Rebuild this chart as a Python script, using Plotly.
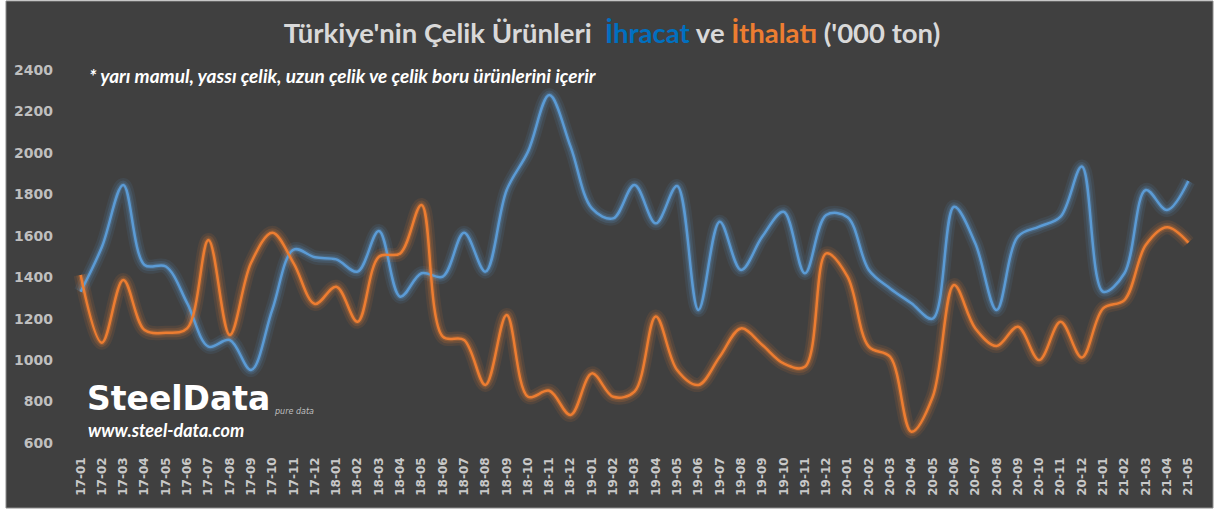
import plotly.graph_objects as go

months = ["17-01","17-02","17-03","17-04","17-05","17-06","17-07","17-08","17-09","17-10","17-11","17-12",
          "18-01","18-02","18-03","18-04","18-05","18-06","18-07","18-08","18-09","18-10","18-11","18-12",
          "19-01","19-02","19-03","19-04","19-05","19-06","19-07","19-08","19-09","19-10","19-11","19-12",
          "20-01","20-02","20-03","20-04","20-05","20-06","20-07","20-08","20-09","20-10","20-11","20-12",
          "21-01","21-02","21-03","21-04","21-05"]

ihracat = [1330, 1547, 1845, 1459, 1452, 1275, 1065, 1097, 952, 1245, 1533, 1496,
           1486, 1427, 1623, 1306, 1419, 1403, 1615, 1427, 1821, 2006, 2279, 2030,
           1732, 1684, 1845, 1660, 1840, 1242, 1668, 1435, 1596, 1716, 1419, 1700,
           1690, 1435, 1346, 1274, 1200, 1740, 1563, 1242, 1596, 1644, 1692, 1934,
           1330, 1419, 1821, 1724, 1864]

ithalat = [1411, 1084, 1387, 1145, 1132, 1153, 1580, 1121, 1470, 1615, 1467, 1271,
           1354, 1185, 1499, 1515, 1749, 1113, 1097, 880, 1218, 823, 852, 735,
           936, 823, 848, 1210, 952, 880, 1016, 1153, 1073, 984, 968, 1515,
           1403, 1065, 1016, 654, 823, 1362, 1153, 1068, 1161, 1000, 1185, 1013,
           1250, 1290, 1555, 1641, 1567]

y_ticks = [600, 800, 1000, 1200, 1400, 1600, 1800, 2000, 2200, 2400]

BLUE = "#5b9bd5"
ORANGE = "#ed7d31"
BG = "#404040"

W, H = 1217, 511
ML, MR, MT, MB = 70, 18, 70, 68
PW, PH = W - ML - MR, H - MT - MB

def px_x(p):
    return (p - ML) / PW

def px_y(p):
    return (H - MB - p) / PH

fig = go.Figure()

# glow layers
for series, col in ((ihracat, BLUE), (ithalat, ORANGE)):
    for w, op in ((14, 0.10), (9, 0.16), (5, 0.25)):
        fig.add_trace(go.Scatter(x=months, y=series, mode="lines",
                                 line=dict(color=col, width=w, shape="spline", smoothing=1.0),
                                 opacity=op, hoverinfo="skip", showlegend=False))

fig.add_trace(go.Scatter(x=months, y=ihracat, mode="lines", name="İhracat",
                         line=dict(color=BLUE, width=2.5, shape="spline", smoothing=1.0),
                         showlegend=False))
fig.add_trace(go.Scatter(x=months, y=ithalat, mode="lines", name="İthalat",
                         line=dict(color=ORANGE, width=2.5, shape="spline", smoothing=1.0),
                         showlegend=False))

title_txt = ("<b>Türkiye'nin Çelik Ürünleri&nbsp;&nbsp;<span style='color:#0070c0'>İhracat</span> ve "
             "<span style='color:#ed7d31'>İthalatı</span> ('000 ton)</b>")

fig.update_layout(
    width=W, height=H,
    margin=dict(l=ML, r=MR, t=MT, b=MB, pad=0),
    paper_bgcolor="#ffffff",
    plot_bgcolor="rgba(0,0,0,0)",
    title=dict(text=title_txt, x=px_x(612), xanchor="center", xref="paper",
               y=1 - 33 / H, yanchor="middle", yref="container",
               font=dict(family="Lato", size=27.5, color="#d9d9d9")),
    xaxis=dict(type="category", range=[-0.5, len(months) - 0.5],
               showgrid=False, zeroline=False, showline=False,
               tickangle=-90, ticks="", ticklabelstandoff=11,
               tickfont=dict(family="DejaVu Sans", size=12, color="#c8c8c8", weight="bold")),
    yaxis=dict(range=[600, 2400], tickvals=y_ticks,
               showgrid=False, zeroline=False, showline=False, ticks="",
               ticklabelstandoff=16,
               tickfont=dict(family="DejaVu Sans", size=14, color="#bfbfbf", weight="bold")),
    shapes=[
        dict(type="rect", xref="paper", yref="paper", layer="below",
             x0=px_x(6), x1=px_x(1213), y0=px_y(508), y1=px_y(1),
             fillcolor=BG, line=dict(color="#8c8c8c", width=1)),
    ],
    annotations=[
        dict(text="<b><i>* yarı mamul, yassı çelik, uzun çelik ve çelik boru ürünlerini içerir</i></b>",
             xref="paper", yref="paper", x=px_x(87), y=px_y(75), xanchor="left", yanchor="middle",
             showarrow=False, font=dict(family="Lato", size=19, color="#ffffff")),
        dict(text="<b>SteelData</b>",
             xref="paper", yref="paper", x=px_x(85), y=px_y(398), xanchor="left", yanchor="middle",
             showarrow=False, font=dict(family="DejaVu Sans", size=33, color="#ffffff")),
        dict(text="<i>pure data</i>",
             xref="paper", yref="paper", x=px_x(272), y=px_y(411), xanchor="left", yanchor="middle",
             showarrow=False, font=dict(family="DejaVu Sans", size=8, color="#bfbfbf")),
        dict(text="<b><i>www.steel-data.com</i></b>",
             xref="paper", yref="paper", x=px_x(86), y=px_y(430), xanchor="left", yanchor="middle",
             showarrow=False, font=dict(family="Lato", size=18, color="#ffffff")),
    ],
)

fig.write_html("out.html", config={"displayModeBar": False},
               post_script="document.body.style.margin='0';")
